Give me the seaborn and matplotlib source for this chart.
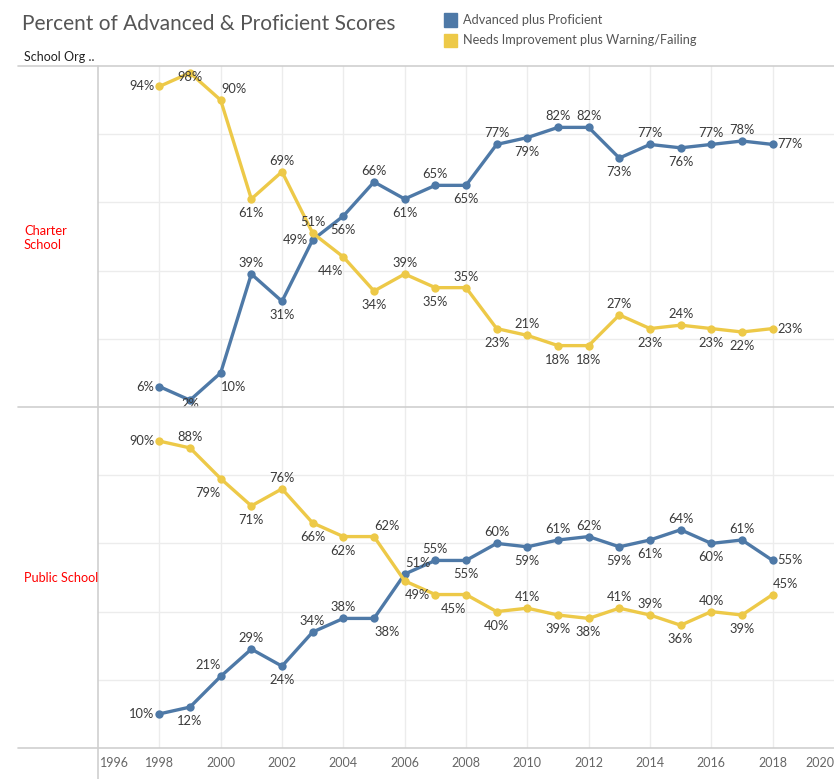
import matplotlib
matplotlib.use("Agg")
import matplotlib.pyplot as plt
from matplotlib.lines import Line2D
from matplotlib.patches import Rectangle
import seaborn as sns
import pandas as pd

# ---------------- data ----------------
years = list(range(1998, 2019))
charter_adv = [6, 2, 10, 39, 31, 49, 56, 66, 61, 65, 65, 77, 79, 82, 82, 73, 77, 76, 77, 78, 77]
charter_needs = [94, 98, 90, 61, 69, 51, 44, 34, 39, 35, 35, 23, 21, 18, 18, 27, 23, 24, 23, 22, 23]
public_adv = [10, 12, 21, 29, 24, 34, 38, 38, 51, 55, 55, 60, 59, 61, 62, 59, 61, 64, 60, 61, 55]
public_needs = [90, 88, 79, 71, 76, 66, 62, 62, 49, 45, 45, 40, 41, 39, 38, 41, 39, 36, 40, 39, 45]
measures = ["Advanced plus Proficient", "Needs Improvement plus Warning/Failing"]
schools = ["Charter\nSchool", "Public School"]
x_tick_years = list(range(1996, 2021, 2))

# label placement codes (annotation style, one per year)
label_pos = {
    ("Charter\nSchool", measures[0]): ["L", "C", "BR", "A", "B", "L", "B", "A", "B", "A", "B", "A", "B", "A", "A", "B", "A", "B", "A", "A", "R"],
    ("Charter\nSchool", measures[1]): ["L", "C", "AR", "B", "A", "A", "BL", "B", "A", "B", "A", "B", "A", "B", "B", "A", "B", "A", "B", "B", "R"],
    ("Public School", measures[0]): ["L", "B", "AL", "A", "B", "A", "A", "BR", "AR", "A", "B", "A", "B", "A", "A", "B", "B", "A", "B", "A", "R"],
    ("Public School", measures[1]): ["L", "A", "BL", "B", "A", "B", "B", "AR", "BR", "N", "BL", "B", "A", "B", "B", "A", "A", "B", "A", "B", "AR"],
}

rows = []
for school, adv, needs in [(schools[0], charter_adv, charter_needs), (schools[1], public_adv, public_needs)]:
    for y, a, n in zip(years, adv, needs):
        rows.append({"School": school, "Year": y, "Measure": measures[0], "Value": a})
        rows.append({"School": school, "Year": y, "Measure": measures[1], "Value": n})
df = pd.DataFrame(rows)

# ---------------- style ----------------
sns.set_theme(style="white")
plt.rcParams["font.family"] = ["Lato", "DejaVu Sans"]

BLUE = "#4e79a7"
YELLOW = "#edc948"
palette = {measures[0]: BLUE, measures[1]: YELLOW}

W, H = 834, 779
fig = plt.figure(figsize=(W / 100, H / 100), dpi=100)

def fx(px):
    return px / W

def fy(py):
    return 1 - py / H

left_px, right_px = 98, 834
panels = [(66, 407), (407, 748)]

offsets = {
    "A": (0, 11, "center"), "B": (0, -14, "center"), "L": (-5, 0, "right"),
    "R": (5, 0, "left"), "C": (0, -4, "center"), "AR": (13, 11, "center"),
    "AL": (-13, 11, "center"), "BR": (13, -14, "center"), "BL": (-13, -14, "center"),
}

axes = []
for school, (top, bot) in zip(schools, panels):
    ax = fig.add_axes([fx(left_px), fy(bot), fx(right_px - left_px), (bot - top) / H])
    sub = df[df["School"] == school]
    sns.lineplot(data=sub, x="Year", y="Value", hue="Measure", hue_order=measures,
                 palette=palette, marker="o", markersize=6, markeredgewidth=0,
                 linewidth=2.4, legend=False, ax=ax, zorder=3)
    ax.set_xlim(1996, 2020)
    ax.set_ylim(0, 100)
    ax.set_yticks([20, 40, 60, 80])
    ax.set_xticks(list(range(1998, 2020, 2)))
    ax.grid(True, color="#ececec", linewidth=1)
    ax.tick_params(length=0, labelleft=False, labelbottom=False)
    ax.set_xlabel("")
    ax.set_ylabel("")
    for s in ax.spines.values():
        s.set_visible(False)
    for m in measures:
        vals = sub[sub["Measure"] == m]
        codes = label_pos[(school, m)]
        for (yr, v), code in zip(zip(vals["Year"], vals["Value"]), codes):
            if code == "N":
                continue
            dx, dy, ha = offsets[code]
            ax.annotate(f"{v}%", (yr, v), xytext=(dx * 0.72, dy * 0.72),
                        textcoords="offset points", ha=ha, va="center",
                        fontsize=9.3, color="#3a3a3a", zorder=5)
    axes.append(ax)

# bottom axis tick labels
axb = axes[1]
for i, yr in enumerate(x_tick_years):
    ha = "center"
    if i == 0:
        ha = "left"
    elif i == len(x_tick_years) - 1:
        ha = "right"
    axb.text(yr + (0.07 if i == 0 else 0), -2.6, str(yr), transform=axb.transData,
             ha=ha, va="top", fontsize=9, color="#666666", clip_on=False)

# separators
line_col = "#cfcfcf"
for py in [66, 407, 748]:
    fig.add_artist(Line2D([fx(18), 1], [fy(py), fy(py)], color=line_col, lw=1.2))
fig.add_artist(Line2D([fx(98), fx(98)], [fy(66), 0], color=line_col, lw=1.2))

# title and headers
fig.text(fx(22), fy(24), "Percent of Advanced & Proficient Scores", fontsize=15.0,
         color="#555555", va="center", ha="left")
fig.text(fx(24), fy(57), "School Org ..", fontsize=9, color="#222222", va="center", ha="left")
fig.text(fx(24), fy(238), "Charter\nSchool", fontsize=9.3, color="#ff0000", va="center",
         ha="left", linespacing=1.25)
fig.text(fx(24), fy(578), "Public School", fontsize=9.1, color="#ff0000", va="center", ha="left")

# legend
for i, (m, c) in enumerate(zip(measures, [BLUE, YELLOW])):
    yc = 20 + 20 * i
    fig.add_artist(Rectangle((fx(444), fy(yc + 6.5)), fx(13), 13 / H, color=c,
                             transform=fig.transFigure))
    fig.text(fx(463), fy(yc), m, fontsize=9.2, color="#555555", va="center", ha="left")

fig.savefig("out.png", dpi=100)
